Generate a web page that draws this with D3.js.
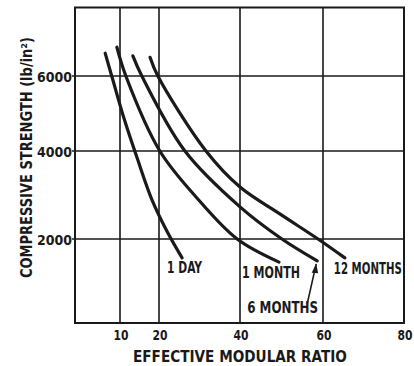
<!DOCTYPE html>
<html>
<head>
<meta charset="utf-8">
<script src="https://cdn.jsdelivr.net/npm/d3@7"></script>
<style>
  html, body { margin: 0; padding: 0; background: #fff; }
  svg { display: block; }
  text { font-family: "DejaVu Sans Condensed", "Liberation Sans Narrow", "DejaVu Sans", sans-serif; font-weight: bold; fill: #1a1a1a; }
</style>
</head>
<body>
<script>
// ---- data ----
const xTicks = [10, 20, 40, 60, 80];
const yTicks = [2000, 4000, 6000];
const xTitle = "EFFECTIVE MODULAR RATIO";
const yTitle = "COMPRESSIVE STRENGTH (lb/in²)";

const seriesNames = ["1 DAY", "1 MONTH", "6 MONTHS", "12 MONTHS"];
const ratio1Day     = [6.7, 8.4, 11.0, 14.4, 18.2, 22.0, 25.7];
const strength1Day  = [6610, 5900, 4880, 3840, 2890, 2170, 1550];
const ratio1Month    = [9.3, 11.5, 20.2, 29.2, 39.3, 49.4];
const strength1Month = [6770, 6000, 4000, 2950, 2000, 1450];
const ratio6Months    = [13.3, 15.6, 26.4, 40.0, 50.1, 58.6];
const strength6Months = [6540, 6000, 4000, 2730, 2000, 1480];
const ratio12Months    = [17.7, 19.7, 31.6, 40.0, 49.6, 58.8, 65.4];
const strength12Months = [6500, 6000, 4000, 3180, 2570, 2000, 1550];

// ---- layout ----
const W = 414, H = 366;
const svg = d3.select("body").append("svg").attr("width", W).attr("height", H);

// the scanned grid is slightly uneven, so use piecewise-linear scales
const x = d3.scaleLinear().domain([0, 10, 20, 40, 60, 80]).range([75, 120, 159, 240, 323, 404]);
const y = d3.scaleLinear().domain([0, 2000, 4000, 6000, 7830]).range([323, 239, 151, 76, 7.5]);

const ink = "#1a1a1a";

// horizontally squeezed text, fitted to a target width
function fitText(g, str, px, py, size, width, anchor, rotate) {
  const t = g.append("text").attr("font-size", size).text(str);
  const natural = t.node().getComputedTextLength();
  const sx = width / natural;
  let ox = 0;
  if (anchor === "middle") ox = -width / 2;
  if (anchor === "end") ox = -width;
  t.attr("transform", `translate(${px},${py})` + (rotate ? ` rotate(${rotate})` : "") + ` translate(${ox},0) scale(${sx},1)`);
  return t;
}

// grid lines
svg.append("g").selectAll("line").data(yTicks).join("line")
  .attr("x1", x(0) - 3).attr("x2", x(80))
  .attr("y1", d => y(d)).attr("y2", d => y(d))
  .attr("stroke", ink).attr("stroke-width", 1.6);
svg.append("g").selectAll("line").data(xTicks.filter(d => d < 80)).join("line")
  .attr("x1", d => x(d)).attr("x2", d => x(d))
  .attr("y1", y(7830)).attr("y2", y(0))
  .attr("stroke", ink).attr("stroke-width", 1.6);

// frame
svg.append("rect")
  .attr("x", x(0)).attr("y", y(7830))
  .attr("width", x(80) - x(0)).attr("height", y(0) - y(7830))
  .attr("fill", "none").attr("stroke", ink).attr("stroke-width", 2);

// tick labels
const tg = svg.append("g");
xTicks.forEach(d => fitText(tg, String(d), x(d) + 1, 340, 14.5, 15, "middle"));
yTicks.forEach(d => fitText(tg, String(d), 72, y(d) + 5.5, 14.5, 35, "end"));

// axis titles
fitText(svg, xTitle, 133, 362, 15, 214, "start");
fitText(svg, yTitle, 31.5, 278, 16, 241, "start", -90);

// curves
const series = [
  { name: seriesNames[0], xs: ratio1Day, ys: strength1Day },
  { name: seriesNames[1], xs: ratio1Month, ys: strength1Month },
  { name: seriesNames[2], xs: ratio6Months, ys: strength6Months },
  { name: seriesNames[3], xs: ratio12Months, ys: strength12Months }
];
const line = d3.line().x(d => x(d[0])).y(d => y(d[1])).curve(d3.curveCatmullRom.alpha(0.5));
svg.append("g").selectAll("path").data(series).join("path")
  .attr("d", s => line(s.xs.map((v, i) => [v, s.ys[i]])))
  .attr("fill", "none").attr("stroke", ink).attr("stroke-width", 3.2)
  .attr("stroke-linecap", "round");

// curve labels (positioned relative to curve end points)
const labelSpecs = [
  { i: 0, dx: -15, dy: 15.5, len: 35 },
  { i: 1, dx: -37, dy: 16, len: 58 },
  { i: 2, dx: -70, dy: 52, len: 71 },
  { i: 3, dx: -11, dy: 16, len: 68 }
];
labelSpecs.forEach(l => {
  const s = series[l.i];
  const n = s.xs.length - 1;
  fitText(svg, s.name, x(s.xs[n]) + l.dx, y(s.ys[n]) + l.dy, 15, l.len, "start");
});

// arrow from "6 MONTHS" label to its curve end
{
  const s = series[2];
  const n = s.xs.length - 1;
  const ex = x(s.xs[n]) - 1, ey = y(s.ys[n]) + 3;
  svg.append("line")
    .attr("x1", ex - 9).attr("y1", ey + 40)
    .attr("x2", ex).attr("y2", ey)
    .attr("stroke", ink).attr("stroke-width", 1.6);
  svg.append("path")
    .attr("d", `M${ex},${ey} L${ex - 4.5},${ey + 9} L${ex + 2},${ey + 9.5} Z`)
    .attr("fill", ink);
}
</script>
</body>
</html>
